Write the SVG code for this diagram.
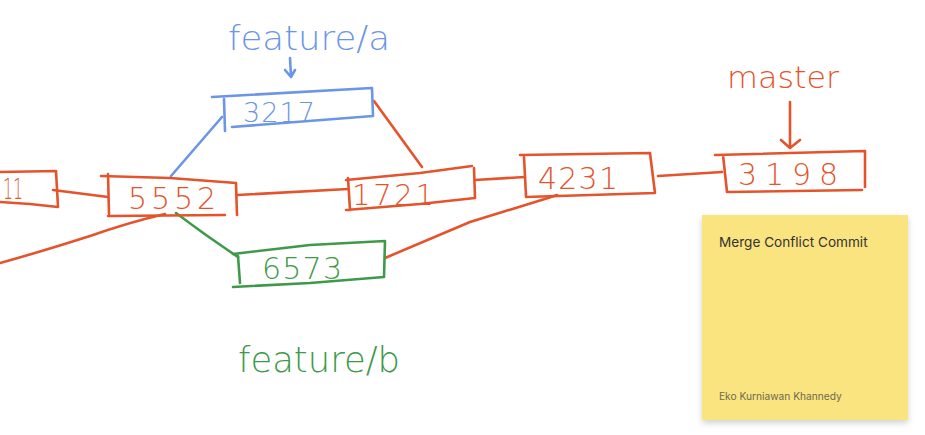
<svg xmlns="http://www.w3.org/2000/svg" width="925" height="435" viewBox="0 0 925 435">
<style>
.o{stroke:#e5532b}
.b{stroke:#6b95e6}
.g{stroke:#3d9a48}
path{fill:none;stroke-width:2.6;stroke-linecap:round;stroke-linejoin:round}
.hw{font-family:"DejaVu Sans",sans-serif;font-weight:300}
.to{fill:#e5532b}.tb{fill:#6b95e6}.tg{fill:#3d9a48}
.note{font-family:Inter,"Liberation Sans",sans-serif}
</style>
<defs>
<filter id="sh" x="-10%" y="-10%" width="130%" height="130%">
<feDropShadow dx="0" dy="3" stdDeviation="3" flood-color="#000" flood-opacity="0.18"/>
</filter>
</defs>
<rect width="925" height="435" fill="#ffffff"/>
<g id="connectors">
<path class="o" d="M53,190 L108,197"/>
<path class="o" d="M237,195 L348,189"/>
<path class="o" d="M475,180 L525,177"/>
<path class="o" d="M658,176 L722,172"/>
<path class="b" d="M171,176 L222,117"/>
<path class="o" d="M374,101 L422,167"/>
<path class="g" d="M176,213 Q205,235 238,257"/>
<path class="o" d="M165,214 Q130,222 90,236 Q40,252 0,263"/>
<path class="o" d="M385,258 L470,222 L548,198 L557,195"/>
</g>
<g id="commit-11">
<path class="o" d="M0,172 L56,171 L58,207 L30,204 L0,202"/>
<text class="hw to" x="3" y="199" font-size="29" textLength="20" lengthAdjust="spacingAndGlyphs">11</text>
</g>
<g id="commit-5552">
<path class="o" d="M101,176 L170,178 L236,183 L237,215 M108,174 L109,214 M108,216 L225,215"/>
<text class="hw to" x="128" y="209" font-size="30" textLength="88" lengthAdjust="spacing">5552</text>
</g>
<g id="commit-3217">
<path class="b" d="M212,97 L372,88 L373,116 L232,127 M224,99 L225,131"/>
<text class="hw tb" x="243" y="122" font-size="27" textLength="72" lengthAdjust="spacing">3217</text>
</g>
<g id="label-feature-a">
<text class="hw tb" x="228" y="50" font-size="34" textLength="162" lengthAdjust="spacingAndGlyphs">feature/a</text>
<path class="b" d="M290,58 L291,76 M285,70 L291,77 L295,70"/>
</g>
<g id="commit-1721">
<path class="o" d="M346,180 L420,173 L472,166 M348,178 L350,210 M346,210 L420,204 L475,198 M474,168 L475,198"/>
<text class="hw to" x="352" y="205" font-size="29" textLength="82" lengthAdjust="spacing">1721</text>
</g>
<g id="commit-4231">
<path class="o" d="M520,155 L650,153 L655,193 L526,197 M524,157 L526,196"/>
<text class="hw to" x="538" y="189" font-size="30" textLength="80" lengthAdjust="spacing">4231</text>
</g>
<g id="commit-3198">
<path class="o" d="M715,155 L865,151 L865,187 M723,155 L727,192 L862,190"/>
<text class="hw to" x="738" y="185" font-size="30" textLength="100" lengthAdjust="spacing">3198</text>
</g>
<g id="label-master">
<text class="hw to" x="727" y="88" font-size="30" textLength="112" lengthAdjust="spacingAndGlyphs">master</text>
<path class="o" d="M790,102 L790,145 M781,140 L790,148 L800,140"/>
</g>
<g id="commit-6573">
<path class="g" d="M233,254 L310,245 L385,241 L384,277 L310,283 L233,287 M238,256 L240,283"/>
<text class="hw tg" x="262" y="279" font-size="30" textLength="80" lengthAdjust="spacing">6573</text>
</g>
<g id="label-feature-b">
<text class="hw tg" x="238" y="372" font-size="36" textLength="162" lengthAdjust="spacingAndGlyphs">feature/b</text>
</g>
<g id="sticky-note">
<rect x="702" y="215" width="206" height="205" fill="#f9e47f" filter="url(#sh)"/>
<text class="note" x="719" y="247" font-size="13.6" fill="#333333">Merge Conflict Commit</text>
<text class="note" x="719" y="400" font-size="10.2" fill="#6e6a4f">Eko Kurniawan Khannedy</text>
</g>
</svg>
